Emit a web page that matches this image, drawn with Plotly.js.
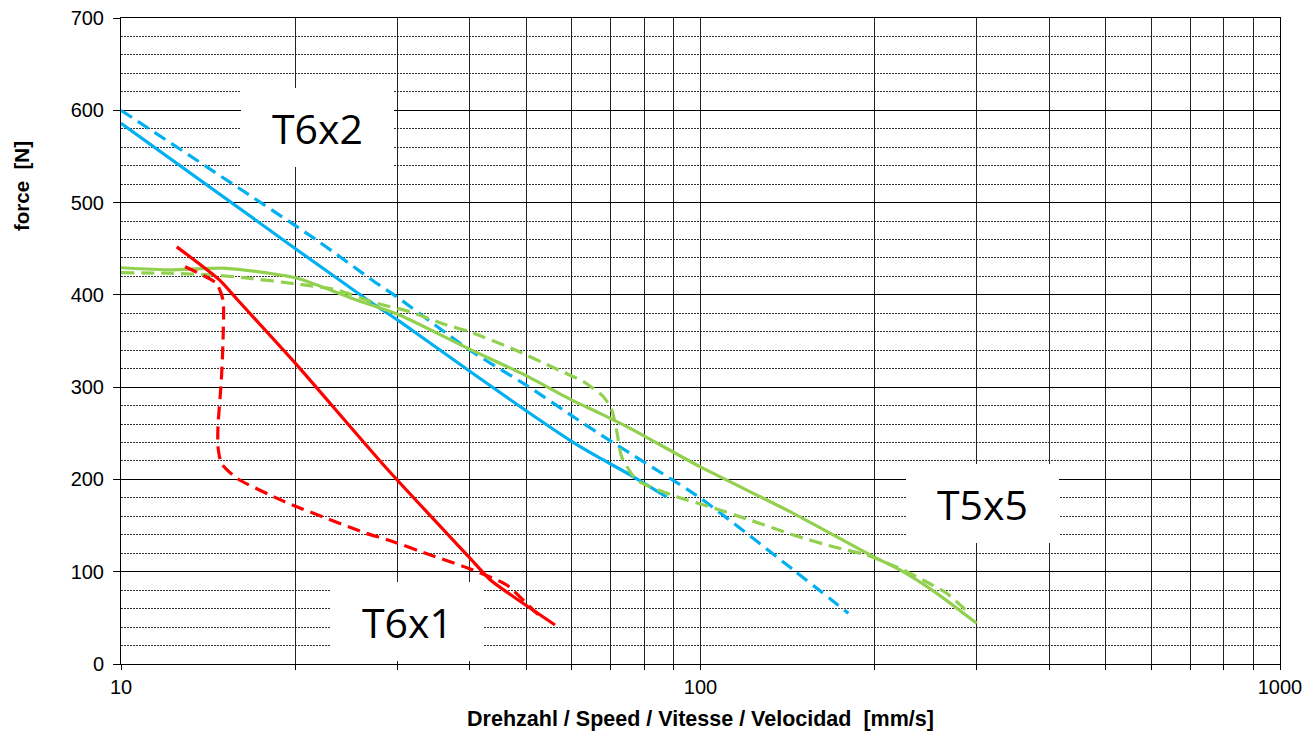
<!DOCTYPE html>
<html>
<head>
<meta charset="utf-8">
<script src="https://cdn.plot.ly/plotly-3.0.1.min.js"></script>
<style>html,body{margin:0;padding:0;background:#fff;}#chart{width:1306px;height:741px;}</style>
</head>
<body>
<div id="chart"></div>
<script>
// Speed [mm/s] (log axis) and force [N]
const t6x2SolidX = [10, 20, 26.9, 30.3, 39.7, 49.8, 60, 67.1, 75.6, 87.4];
const t6x2SolidY = [586, 450, 392.6, 371, 318.6, 275.2, 241, 223, 205, 181];

const t6x2DashX = [10, 21.8, 27.4, 29.9, 40, 50.1, 60.3, 69.8, 99.8, 144.6, 180];
const t6x2DashY = [600, 459, 414, 398, 340, 302, 268, 242, 180, 102, 55];

const t5x5SolidX = [10, 12.15, 15.2, 20, 25.5, 30.3, 39.7, 49.8, 60, 67.1, 75.6, 99.8, 144.6, 198.8, 220.9, 255.7, 299.7];
const t5x5SolidY = [429.4, 427, 428.8, 418.5, 394.4, 378, 342, 313, 286, 271.6, 255.4, 213.8, 163.3, 116.3, 101.9, 76.6, 44.1];

const t5x5DashX = [10, 12.07, 14.5, 16.6, 20, 23.6, 27.6, 31.5, 36.5, 40, 47.9, 56.1, 62.8, 68, 70.3, 71.7, 73.1, 77.6, 91, 103.8, 121.7, 144.6, 169.5, 193.5, 224, 242, 266, 289];
const t5x5DashY = [424, 423.4, 421.5, 418, 412, 405.3, 391, 381.8, 367.3, 360, 340.2, 320.4, 305.9, 289.6, 275.2, 252, 224.6, 199.4, 181.3, 170.4, 156, 139.8, 127, 118, 101.9, 91, 76.6, 56.7];

const t6x1SolidX = [12.48, 14.8, 15.9, 20, 28.9, 39.8, 43.4, 49.4, 56.1];
const t6x1SolidY = [452, 416, 394.4, 325.8, 210.2, 116.3, 91, 65.8, 42.3];

const t6x1DashX = [12.9, 14.6, 15.0, 15.0, 14.9, 14.7, 14.7, 14.9, 15.85, 18.6, 20.1, 26.5, 28.9, 34.6, 40.5, 46.3, 52.2, 53.5];
const t6x1DashY = [430.5, 412.5, 394.4, 351, 307.7, 257, 235.5, 217.5, 201.2, 179.5, 170.4, 141.6, 134.4, 117, 101.9, 85.6, 54.9, 51.3];

const xTickVals = [10, 20, 30, 40, 50, 60, 70, 80, 90, 100, 200, 300, 400, 500, 600, 700, 800, 900, 1000];
const xTickText = ['10', '', '', '', '', '', '', '', '', '100', '', '', '', '', '', '', '', '', '1000'];

const seriesLabels = ['T6x2', 'T6x1', 'T5x5'];
const xTitle = 'Drehzahl / Speed / Vitesse / Velocidad&nbsp; [mm/s]';
const yTitle = 'force&nbsp; [N]';

const BLUE = '#00B0F0', GREEN = '#92D050', RED = '#FF0000';
const DASH = '13px,7px';

function tr(x, y, color, dash) {
  return {x: x, y: y, type: 'scatter', mode: 'lines', hoverinfo: 'skip',
    line: {color: color, width: 3.2, dash: dash, shape: 'spline', smoothing: 0.6}};
}

const data = [
  tr(t6x2SolidX, t6x2SolidY, BLUE, 'solid'),
  tr(t6x2DashX, t6x2DashY, BLUE, DASH),
  tr(t5x5SolidX, t5x5SolidY, GREEN, 'solid'),
  tr(t5x5DashX, t5x5DashY, GREEN, DASH),
  tr(t6x1SolidX, t6x1SolidY, RED, 'solid'),
  tr(t6x1DashX, t6x1DashY, RED, DASH)
];

const boxFont = {family: 'Open Sans, Noto Sans, sans-serif', size: 41, color: '#000'};
function box(text, px, py) {
  return {text: text, xref: 'paper', yref: 'paper', x: px, y: py, xanchor: 'center', yanchor: 'middle',
    showarrow: false, bgcolor: '#fff', width: 153, height: 79, borderpad: 0, borderwidth: 0, font: boxFont};
}

const layout = {
  width: 1306, height: 741,
  margin: {l: 121, r: 26, t: 18, b: 77},
  paper_bgcolor: '#fff', plot_bgcolor: '#fff',
  showlegend: false,
  font: {family: 'Liberation Sans, Arial, sans-serif', color: '#000'},
  xaxis: {
    type: 'log', range: [1, 3],
    tickmode: 'array', tickvals: xTickVals, ticktext: xTickText,
    showgrid: true, gridcolor: '#222', gridwidth: 1,
    ticks: 'outside', ticklen: 5, tickcolor: '#000',
    showline: true, linecolor: '#000', linewidth: 1, mirror: true,
    zeroline: false,
    tickfont: {size: 20, family: 'Liberation Sans, Arial, sans-serif'},
    title: {text: xTitle, font: {size: 21.5, family: 'Liberation Sans, Arial, sans-serif', weight: 'bold'}, standoff: 13},
    automargin: false
  },
  yaxis: {
    range: [0, 700], dtick: 100, tick0: 0,
    showgrid: true, gridcolor: '#000', gridwidth: 1,
    ticks: 'outside', ticklen: 7, tickcolor: '#000',
    ticklabelstandoff: 5,
    showline: true, linecolor: '#000', linewidth: 1, mirror: true,
    zeroline: false,
    tickfont: {size: 20, family: 'Liberation Sans, Arial, sans-serif'},
    minor: {dtick: 20, showgrid: true, gridcolor: '#333', gridwidth: 1, griddash: '2px,1px', ticks: ''},
    automargin: false
  },
  annotations: [
    box(seriesLabels[0], 0.1695, 0.8305),
    box(seriesLabels[1], 0.2472, 0.0658),
    box(seriesLabels[2], 0.7437, 0.2477),
    {text: yTitle, xref: 'paper', yref: 'paper', x: -0.0854, y: 0.74, xanchor: 'center', yanchor: 'middle',
     textangle: -90, showarrow: false,
     font: {size: 20.5, family: 'Liberation Sans, Arial, sans-serif', weight: 'bold', color: '#000'}}
  ]
};

Plotly.newPlot('chart', data, layout, {displayModeBar: false, staticPlot: true});
</script>
</body>
</html>
